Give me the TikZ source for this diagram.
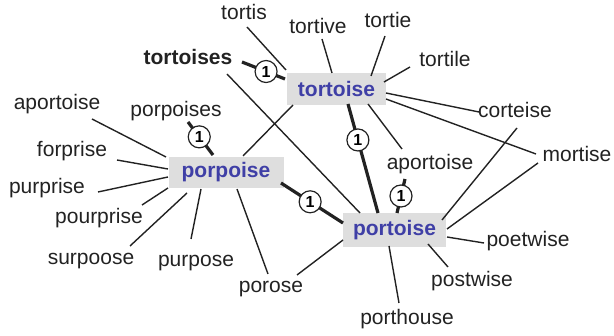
\documentclass[tikz,border=0pt]{standalone}
\usepackage{fontspec}
\setmainfont{Liberation Sans}
\definecolor{wordblue}{HTML}{3F3FA6}
\definecolor{boxgray}{HTML}{DEDEDE}
\definecolor{ink}{HTML}{222222}
\begin{document}
\begin{tikzpicture}[x=1pt,y=-1pt,
  word/.style={inner sep=0pt,text=ink,font=\fontsize{21}{25}\selectfont},
  hub/.style={fill=boxgray,inner sep=0pt,text=wordblue,font=\fontsize{21}{25}\selectfont\bfseries},
  thin/.style={draw=ink,line width=1.4pt},
  thick/.style={draw=ink,line width=3.2pt},
  badge/.style={circle,draw=ink,fill=white,line width=1.2pt,inner sep=0pt,minimum size=22pt,font=\fontsize{16}{18}\selectfont\bfseries}]
\useasboundingbox (0,0) rectangle (614,336);
% hubs
\node[hub,minimum width=99pt,minimum height=32pt] (tortoise) at (336.5,89) {tortoise};
\node[hub,minimum width=115pt,minimum height=31pt] (porpoise) at (226,172.5) {porpoise};
\node[hub,minimum width=103pt,minimum height=34pt] (portoise) at (394.5,230) {portoise};
% words
\node[word] (tortis) at (244,12) {tortis};
\node[word] (tortive) at (318,26) {tortive};
\node[word] (tortie) at (388,20) {tortie};
\node[word] (tortile) at (445,59) {tortile};
\node[word,font=\fontsize{21}{25}\selectfont\bfseries] (tortoises) at (188,57) {tortoises};
\node[word] (corteise) at (515,110) {corteise};
\node[word] (mortise) at (577,154) {mortise};
\node[word] (aportR) at (430,164) {aportoise};
\node[word] (porpoises) at (176,111) {porpoises};
\node[word] (aportL) at (57,104) {aportoise};
\node[word] (forprise) at (72,151) {forprise};
\node[word] (purprise) at (47,188) {purprise};
\node[word] (pourprise) at (99,218) {pourprise};
\node[word] (surpoose) at (91,261) {surpoose};
\node[word] (purpose) at (196,263) {purpose};
\node[word] (porose) at (271,289) {porose};
\node[word] (poetwise) at (528,241) {poetwise};
\node[word] (postwise) at (472,281) {postwise};
\node[word] (porthouse) at (407,319) {porthouse};
% connector end points
\coordinate (a1) at (247,27);  \coordinate (b1) at (286,70);
\coordinate (a2) at (322,39);  \coordinate (b2) at (332,73);
\coordinate (a3) at (385,36);  \coordinate (b3) at (371,76);
\coordinate (a4) at (410,67);  \coordinate (b4) at (384,82);
\coordinate (a5) at (386,93);  \coordinate (b5) at (479,112);
\coordinate (a6) at (386,99);  \coordinate (b6) at (536,154);
\coordinate (a7) at (517,128); \coordinate (b7) at (442,220);
\coordinate (a8) at (538,163); \coordinate (b8) at (447,229);
\coordinate (a9) at (368,104); \coordinate (b9) at (402,149);
\coordinate (a10) at (227,74); \coordinate (b10) at (360,213);
\coordinate (a11) at (293,105); \coordinate (b11) at (243,156);
\coordinate (a12) at (92,119); \coordinate (b12) at (166,157);
\coordinate (a13) at (117,160); \coordinate (b13) at (168,169);
\coordinate (a14) at (98,192); \coordinate (b14) at (168,177);
\coordinate (a15) at (142,205); \coordinate (b15) at (168,188);
\coordinate (a16) at (130,246); \coordinate (b16) at (187,193);
\coordinate (a17) at (191,239); \coordinate (b17) at (201,189);
\coordinate (a18) at (237,189); \coordinate (b18) at (268,274);
\coordinate (a19) at (343,240); \coordinate (b19) at (297,275);
\coordinate (a20) at (447,237); \coordinate (b20) at (484,243);
\coordinate (a21) at (428,244); \coordinate (b21) at (448,267);
\coordinate (a22) at (389,246); \coordinate (b22) at (399,303);
% thin connectors
\foreach \i in {1,...,22} {\draw[thin] (a\i) -- (b\i);}
% weighted connectors
\coordinate (t1) at (242,62);  \coordinate (t2) at (285,79);
\coordinate (t3) at (348,104); \coordinate (t4) at (378,213);
\coordinate (t5) at (188,122); \coordinate (t6) at (213,155);
\coordinate (t7) at (281,183); \coordinate (t8) at (343,223);
\coordinate (t9) at (405,179); \coordinate (t10) at (397,213);
\draw[thick] (t1) -- (t2) node[badge,pos=0.56] (n1) {1};
\draw[thick] (t3) -- (t4) node[badge,pos=0.33] (n2) {1};
\draw[thick] (t5) -- (t6) node[badge,pos=0.45] (n3) {1};
\draw[thick] (t7) -- (t8) node[badge,pos=0.47] (n4) {1};
\draw[thick] (t9) -- (t10) node[badge,pos=0.5] (n5) {1};
\end{tikzpicture}
\end{document}
